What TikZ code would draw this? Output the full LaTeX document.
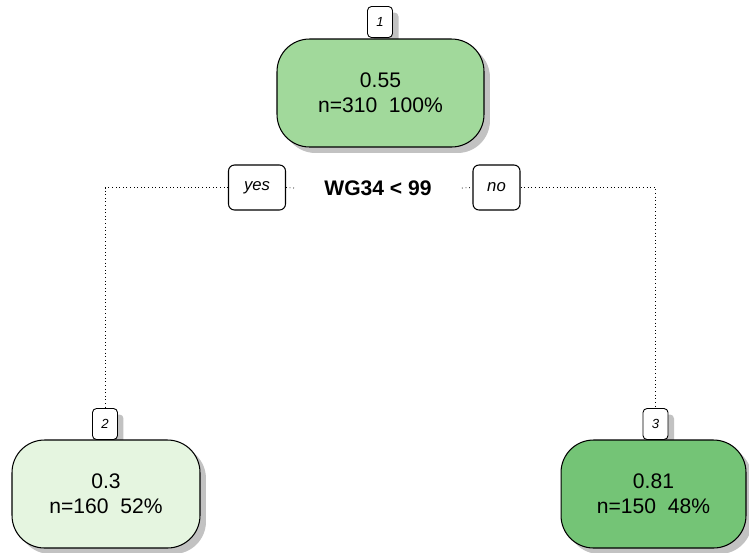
\documentclass[tikz,border=0pt]{standalone}
\usepackage{fontspec}
\setmainfont{Liberation Sans}
\usetikzlibrary{positioning,shadows}
\definecolor{leafpale}{HTML}{E5F5E0}
\definecolor{leafmid}{HTML}{A1D99B}
\definecolor{leafdark}{HTML}{74C476}
\definecolor{shadowgray}{gray}{0.76}

\tikzset{
  treebox/.style={draw, line width=0.6pt, rounded corners=0.65cm, align=center,
    minimum width=3.74cm, minimum height=2.16cm, inner sep=0pt,
    font=\fontsize{12}{14.4}\selectfont,
    drop shadow={shadow xshift=0.12cm, shadow yshift=-0.12cm,
      fill=shadowgray, opacity=1}},
  numbox/.style={draw, fill=white, line width=0.5pt, rounded corners=0.08cm,
    minimum width=0.5cm, minimum height=0.62cm, inner sep=0pt,
    font=\fontsize{7.5}{9}\selectfont\itshape,
    drop shadow={shadow xshift=0.12cm, shadow yshift=-0.12cm,
      fill=shadowgray, opacity=1}},
  edgelbl/.style={draw, fill=white, line width=0.6pt, rounded corners=0.12cm,
    minimum height=0.9cm, inner sep=0pt,
    font=\fontsize{9.5}{11}\selectfont\itshape},
  branch/.style={dash pattern=on 0.45pt off 1.6pt, line width=0.45pt}
}

\begin{document}
\begin{tikzpicture}[x=0.02cm, y=-0.02cm]
  \useasboundingbox (0,0) rectangle (749,552);

  % node numbers (drawn first, boxes cover their shadows)
  \node[numbox] (num1) at (380,22) {1};
  \node[numbox] (num2) at (105,424) {2};
  \node[numbox] (num3) at (655.5,424) {3};

  % boxes
  \node[treebox, fill=leafmid, minimum width=4.14cm] (root) at (380.5,93)
  {0.55\\n=310~~100\%};
  \node[treebox, fill=leafpale, minimum width=3.76cm] (left) at (106,494)
  {0.3\\n=160~~52\%};
  \node[treebox, fill=leafdark, minimum width=3.7cm] (right) at (653.5,494)
  {0.81\\n=150~~48\%};

  % split
  \node[font=\fontsize{12}{14}\selectfont\bfseries, inner xsep=0.6cm]
  (split) at (378,188) {WG34 < 99};
  \node[edgelbl, minimum width=1.14cm] (yes) at (257,187.5) {yes};
  \node[edgelbl, minimum width=0.94cm] (no) at (496.5,187.5) {no};

  \draw[branch] (yes.west) -| (num2.north);
  \draw[branch] (yes.east) -- (split.west);
  \draw[branch] (split.east) -- (no.west);
  \draw[branch] (no.east) -| (num3.north);
\end{tikzpicture}
\end{document}
